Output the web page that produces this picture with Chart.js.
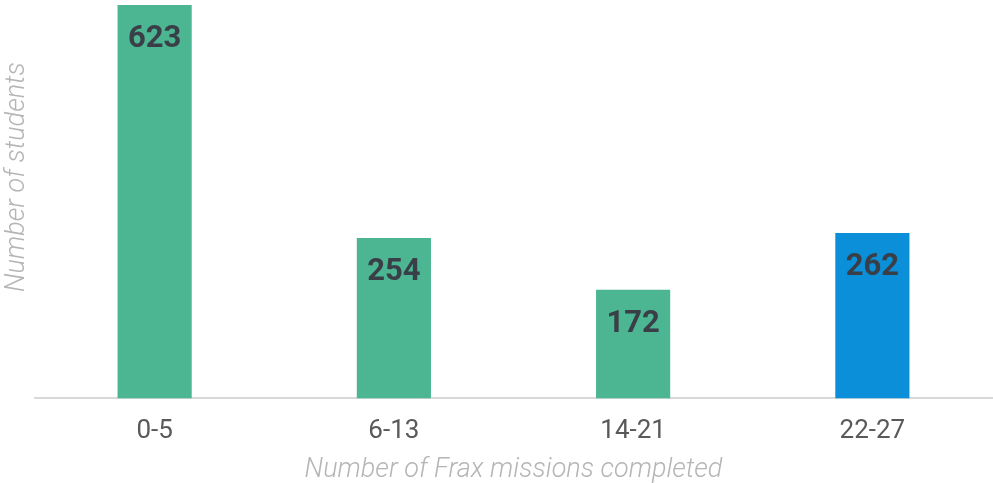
<!DOCTYPE html>
<html>
<head>
<meta charset="utf-8">
<script src="https://cdn.jsdelivr.net/npm/chart.js@4"></script>
<style>
  html, body { margin: 0; padding: 0; background: #fff; }
  #wrap { width: 993px; height: 483px; }
</style>
</head>
<body>
<div id="wrap"><canvas id="chart"></canvas></div>
<script>
const categories = ["0-5", "6-13", "14-21", "22-27"];
const students = [623, 254, 172, 262];
const barColors = ["#4cb592", "#4cb592", "#4cb592", "#0a8fd8"];
const yTitle = "Number of students";
const xTitle = "Number of Frax missions completed";

// draws the value inside the top of each bar
const valueLabels = {
  id: "valueLabels",
  afterDatasetsDraw(chart) {
    const { ctx } = chart;
    const meta = chart.getDatasetMeta(0);
    ctx.save();
    ctx.font = "bold 31px Roboto";
    ctx.fillStyle = "#3a3f47";
    ctx.textAlign = "center";
    ctx.textBaseline = "middle";
    meta.data.forEach((bar, i) => {
      ctx.fillText(String(students[i]), bar.x, bar.y + 34);
    });
    ctx.restore();
  },
};

// y title sits a bit above the middle of the plot, so draw it by hand
const sideTitle = {
  id: "sideTitle",
  afterDraw(chart) {
    const { ctx, chartArea } = chart;
    ctx.save();
    ctx.translate(chartArea.left - 18, chartArea.top + chartArea.height * 0.4375);
    ctx.rotate(-Math.PI / 2);
    ctx.font = "italic 300 27px Roboto";
    ctx.fillStyle = "#b5b5b5";
    ctx.textAlign = "center";
    ctx.textBaseline = "middle";
    ctx.fillText(yTitle, 0, 0);
    ctx.restore();
  },
};

new Chart(document.getElementById("chart"), {
  type: "bar",
  data: {
    labels: categories,
    datasets: [{
      data: students,
      backgroundColor: barColors,
      borderWidth: 0,
      categoryPercentage: 1,
      barPercentage: 0.31,
    }],
  },
  options: {
    responsive: true,
    maintainAspectRatio: false,
    animation: false,
    layout: { padding: { top: 5, right: 1, left: 35, bottom: 0 } },
    plugins: {
      legend: { display: false },
      tooltip: { enabled: false },
    },
    scales: {
      x: {
        grid: { display: false, drawTicks: false },
        border: { display: true, color: "#d9d9d9", width: 2 },
        ticks: {
          padding: 17,
          color: "#595959",
          font: { family: "Roboto", size: 26 },
        },
        title: {
          display: true,
          text: xTitle,
          color: "#b5b5b5",
          font: { family: "Roboto", size: 27, style: "italic", weight: 300 },
          padding: { top: -10, bottom: -3 },
        },
      },
      y: {
        min: 0,
        max: 623,
        display: false,
      },
    },
  },
  plugins: [valueLabels, sideTitle],
});
</script>
</body>
</html>
